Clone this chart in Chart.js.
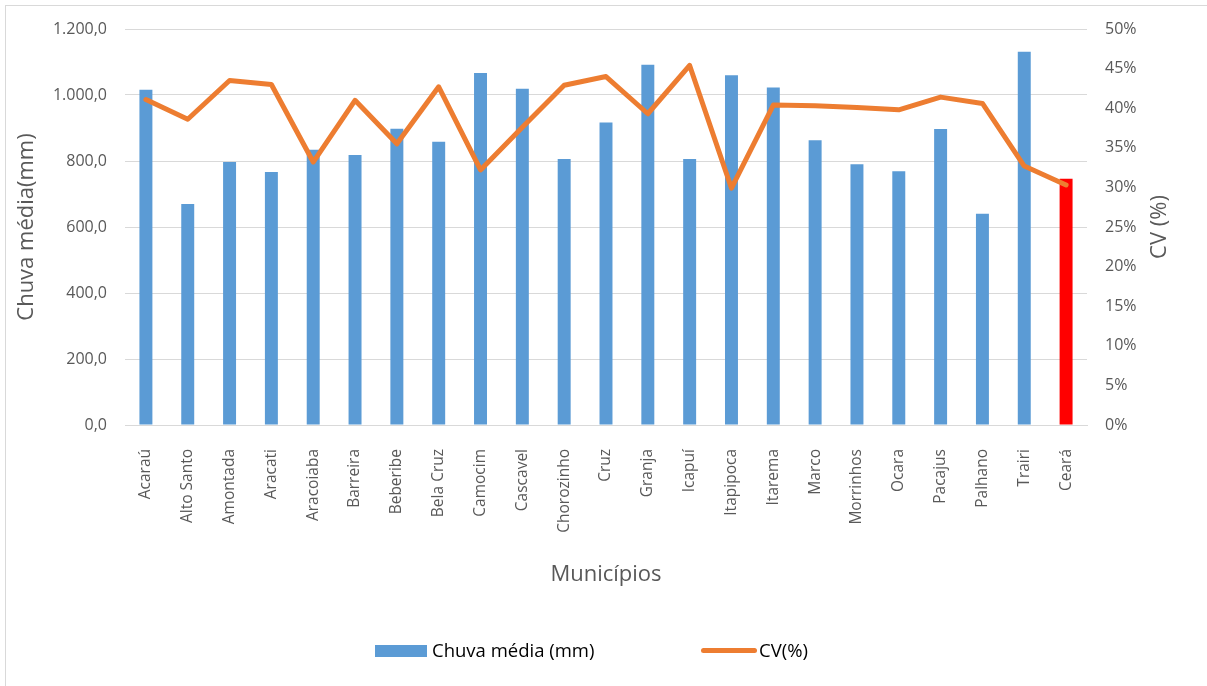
<!DOCTYPE html>
<html>
<head>
<meta charset="utf-8">
<script src="https://cdn.jsdelivr.net/npm/chart.js@4/dist/chart.umd.min.js"></script>
<style>
  body { margin: 0; background: #fff; font-family: "Open Sans", sans-serif; }
  #wrap { position: relative; width: 1207px; height: 686px; overflow: hidden; }
  #frame { position: absolute; left: 5px; top: 5px; width: 1300px; height: 800px;
           border-left: 1px solid #d9d9d9; border-top: 1px solid #d9d9d9; }
  canvas { position: absolute; left: 0; top: 0; }
  .leg { position: absolute; font-size: 18.5px; color: #000; line-height: 20px; top: 640px; }
  .sw-bar { position: absolute; left: 375px; top: 645px; width: 52px; height: 12px; background: #5B9BD5; }
  .sw-line { position: absolute; left: 701px; top: 648px; width: 56px; height: 5px; border-radius: 3px; background: #ED7D31; }
</style>
</head>
<body>
<div id="wrap">
  <div id="frame"></div>
  <canvas id="chart" width="1207" height="686"></canvas>
  <div class="sw-bar"></div><div class="leg" style="left:432px">Chuva média (mm)</div>
  <div class="sw-line"></div><div class="leg" style="left:759px">CV(%)</div>
</div>
<script>
// dados
var municipios = ["Acaraú", "Alto Santo", "Amontada", "Aracati", "Aracoiaba", "Barreira", "Beberibe", "Bela Cruz",
    "Camocim", "Cascavel", "Chorozinho", "Cruz", "Granja", "Icapuí", "Itapipoca", "Itarema", "Marco",
    "Morrinhos", "Ocara", "Pacajus", "Palhano", "Trairi", "Ceará"];
var chuvaMedia = [1016, 670, 797, 767, 834, 818, 898, 858, 1067, 1019, 806, 917, 1092, 806, 1060, 1023, 863,
    790, 769, 897, 640, 1131, 746];
var cvPercent = [41.1, 38.6, 43.5, 43.0, 33.2, 41.0, 35.5, 42.7, 32.2, 37.6, 42.9, 44.0, 39.3, 45.4, 29.9, 40.4, 40.3,
    40.1, 39.8, 41.4, 40.6, 32.7, 30.3];

var grey = "#595959";

function fmtBR(v) {
    var parts = v.toFixed(1).split(".");
    parts[0] = parts[0].replace(/\B(?=(\d{3})+(?!\d))/g, ".");
    return parts[0] + "," + parts[1];
}

// right axis title reads bottom-to-top like the left one
var rightTitle = {
    id: "rightTitle",
    afterDraw: function(chart) {
        var ctx = chart.ctx;
        var a = chart.chartArea;
        ctx.save();
        ctx.translate(1160, (a.top + a.bottom) / 2);
        ctx.rotate(-Math.PI / 2);
        ctx.font = "22px 'Open Sans'";
        ctx.fillStyle = grey;
        ctx.textAlign = "center";
        ctx.textBaseline = "middle";
        ctx.fillText("CV (%)", 0, 0);
        ctx.restore();
    }
};

var ctx = document.getElementById("chart").getContext("2d");
var myChart = new Chart(ctx, {
    type: "bar",
    data: {
        labels: municipios,
        datasets: [{
            type: "line",
            label: "CV(%)",
            data: cvPercent,
            yAxisID: "y1",
            borderColor: "#ED7D31",
            backgroundColor: "#ED7D31",
            borderWidth: 5,
            pointRadius: 0,
            borderJoinStyle: "round",
            borderCapStyle: "round",
            tension: 0,
            order: 1
        }, {
            label: "Chuva média (mm)",
            data: chuvaMedia,
            yAxisID: "y",
            backgroundColor: function(c) {
                return municipios[c.dataIndex] === "Ceará" ? "#FF0000" : "#5B9BD5";
            },
            barPercentage: 0.31,
            categoryPercentage: 1,
            order: 2
        }]
    },
    options: {
        responsive: false,
        animation: false,
        layout: { padding: { top: 29, bottom: 96, left: 0, right: 0 } },
        plugins: {
            legend: { display: false },
            tooltip: { enabled: false }
        },
        scales: {
            x: {
                grid: { display: false },
                border: { color: "#d9d9d9" },
                ticks: {
                    color: grey,
                    font: { family: "Open Sans", size: 15.5 },
                    minRotation: 90,
                    maxRotation: 90,
                    padding: 16,
                    autoSkip: false
                },
                title: {
                    display: true,
                    text: "Municípios",
                    color: grey,
                    font: { family: "Open Sans", size: 22 },
                    padding: { top: 0, bottom: 2 }
                },
                afterFit: function(s) { s.height = 165; }
            },
            y: {
                position: "left",
                min: 0,
                max: 1200,
                border: { display: false },
                grid: { color: "#d9d9d9", drawTicks: false },
                ticks: {
                    stepSize: 200,
                    color: grey,
                    padding: 18,
                    font: { family: "Open Sans", size: 16 },
                    callback: function(v) { return fmtBR(v); }
                },
                title: {
                    display: true,
                    text: "Chuva média(mm)",
                    color: grey,
                    font: { family: "Open Sans", size: 22 },
                    padding: { top: 14, bottom: 0 }
                },
                afterFit: function(s) { s.width = 125; }
            },
            y1: {
                position: "right",
                min: 0,
                max: 50,
                border: { display: false },
                grid: { display: false, drawTicks: false },
                ticks: {
                    stepSize: 5,
                    color: grey,
                    padding: 18,
                    font: { family: "Open Sans", size: 16 },
                    callback: function(v) { return v + "%"; }
                },
                afterFit: function(s) { s.width = 120; }
            }
        }
    },
    plugins: [rightTitle]
});
</script>
</body>
</html>
